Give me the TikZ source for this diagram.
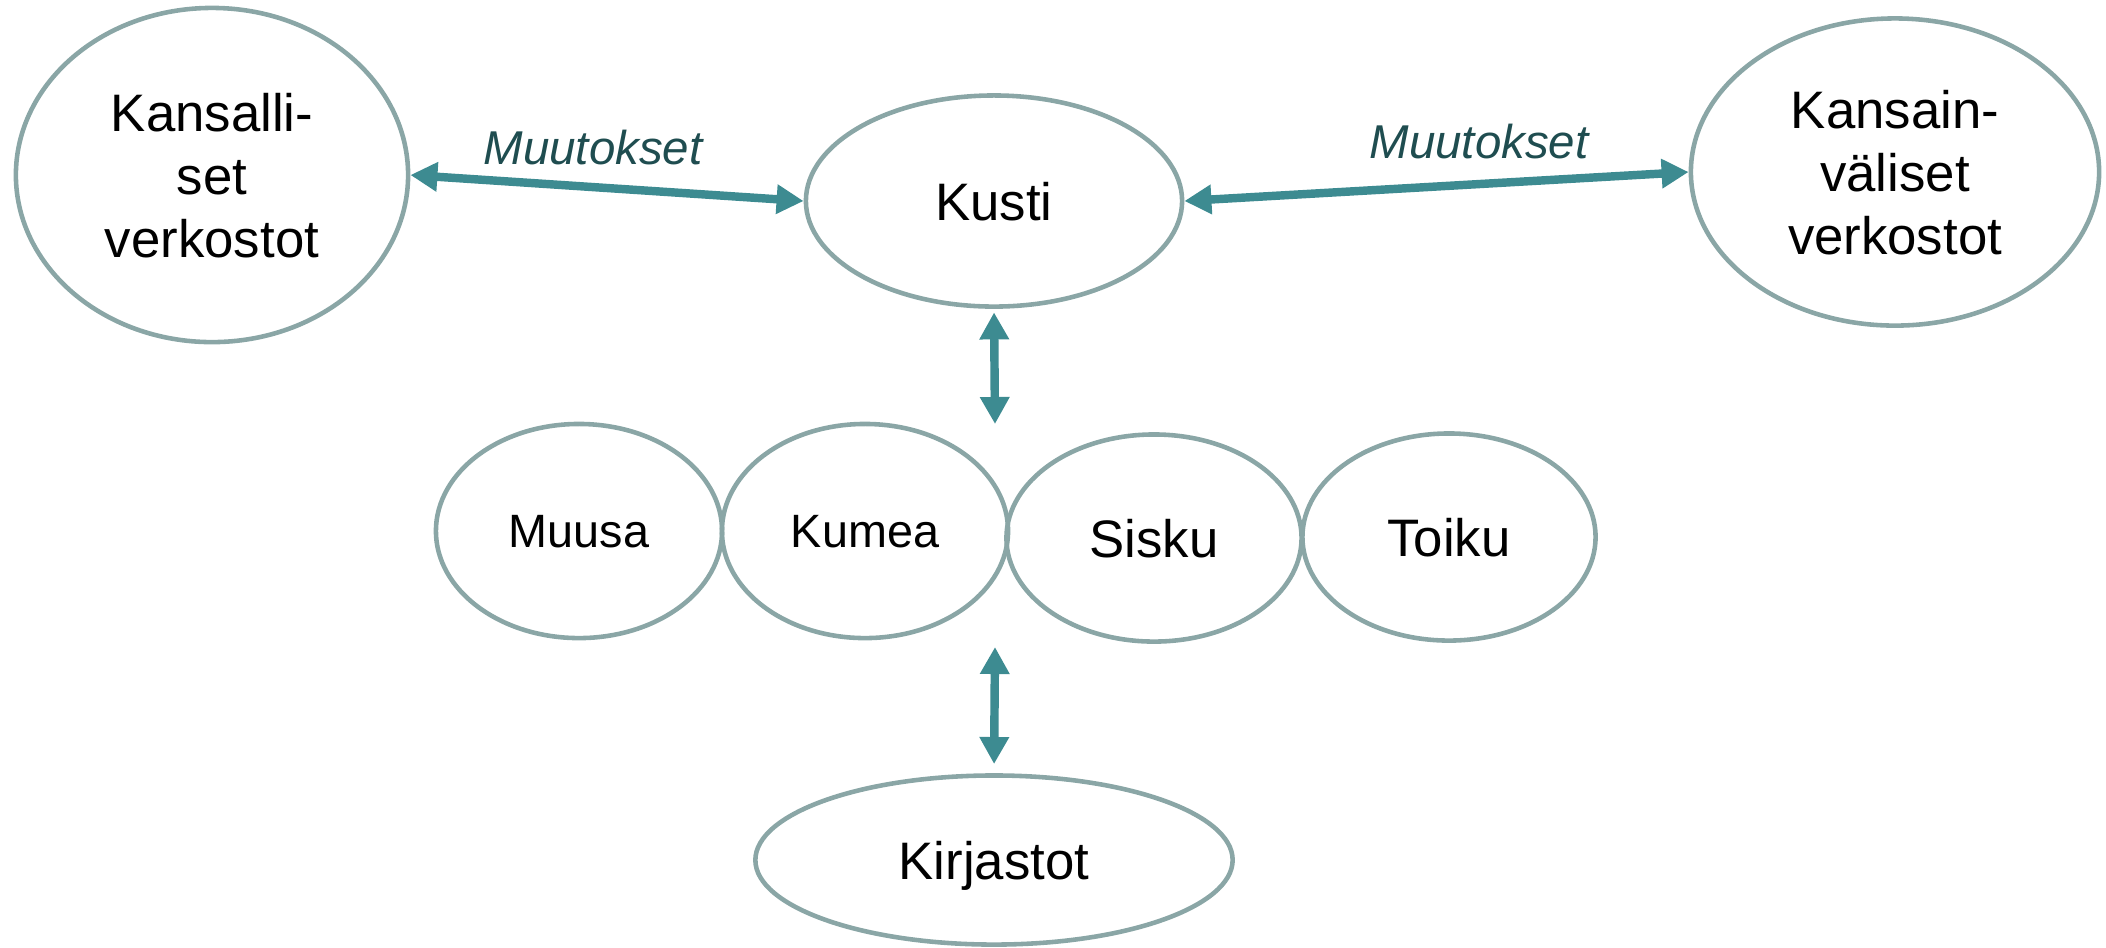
\documentclass[tikz,border=0pt]{standalone}
\usepackage{fontspec}
\setmainfont{Liberation Sans}
\usetikzlibrary{shapes.geometric,arrows.meta}
\definecolor{rim}{RGB}{138,166,166}
\definecolor{flow}{RGB}{61,139,145}
\definecolor{tagc}{RGB}{31,77,80}

\begin{document}
\begin{tikzpicture}[x=0.01cm, y=-0.01cm,
		oval/.style={ellipse, draw=rim, line width=1.3pt, inner sep=0pt, text depth=0pt,
			align=center, font=\fontsize{15}{17.9}\selectfont},
		small/.style={font=\fontsize{13.3}{16}\selectfont},
		conn/.style={draw=flow, line width=2.4pt,
			{Triangle[length=0.27cm,width=0.28cm]}-{Triangle[length=0.27cm,width=0.28cm]}},
		tag/.style={font=\fontsize{13.5}{15}\selectfont\itshape, text=tagc, anchor=base, inner sep=0pt}]
		\useasboundingbox (0,0) rectangle (2106,947);
		% top row
		\node[oval, minimum width=3.92cm, minimum height=3.34cm] (kans) at (212,175) {Kansalli-\\set\\verkostot};
		\node[oval, minimum width=3.76cm, minimum height=2.11cm] (kusti) at (994,201) {Kusti};
		\node[oval, minimum width=4.08cm, minimum height=3.07cm] (intl) at (1895,172) {Kansain-\\väliset\\verkostot};
		% middle row
		\node[oval, small, minimum width=2.86cm, minimum height=2.14cm] (muusa) at (579,531) {Muusa};
		\node[oval, small, minimum width=2.86cm, minimum height=2.14cm] (kumea) at (865,531) {Kumea};
		\node[oval, minimum width=2.95cm, minimum height=2.07cm] (sisku) at (1154,538) {Sisku};
		\node[oval, minimum width=2.93cm, minimum height=2.07cm] (toiku) at (1449,537) {Toiku};
		% bottom
		\node[oval, minimum width=4.77cm, minimum height=1.69cm] (kirj) at (994,860) {Kirjastot};
		
		\coordinate (rowtop) at (995,424);
		\coordinate (rowbot) at (995,647);
		
		\draw[conn] (kans.east) -- (kusti.west);
		\draw[conn] (kusti.east) -- (intl.west);
		\draw[conn, shorten <=1pt] (kusti.south) -- (rowtop);
		\draw[conn, shorten >=2.6pt] (rowbot) -- (kirj.north);
		
		\node[tag] (muut1) at (593,164) {Muutokset};
		\node[tag] (muut2) at (1479,158) {Muutokset};
	\end{tikzpicture}
\end{document}
